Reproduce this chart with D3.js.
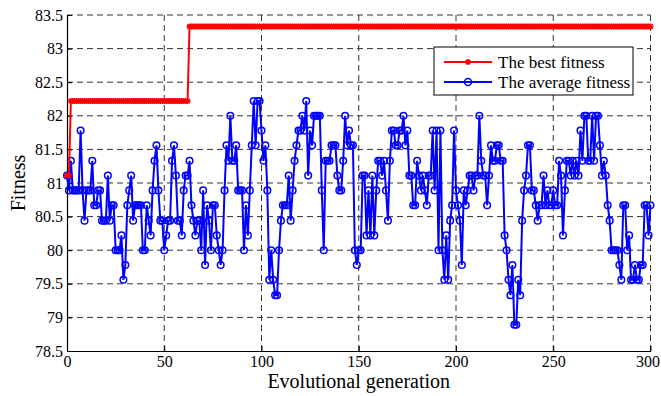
<!DOCTYPE html>
<html>
<head>
<meta charset="utf-8">
<script src="https://cdnjs.cloudflare.com/ajax/libs/d3/7.8.5/d3.min.js"></script>
<style>
body { margin: 0; background: #fff; }
text { font-family: "Liberation Serif", "Times New Roman", serif; fill: #000; }
</style>
</head>
<body>
<svg width="661" height="396"></svg>
<script>
var xTicks = [0, 50, 100, 150, 200, 250, 300];
var yTicks = [78.5, 79, 79.5, 80, 80.5, 81, 81.5, 82, 82.5, 83, 83.5];

// best fitness changes only at these generations
var bestGen = [0, 2, 63];
var bestValue = [81.11, 82.22, 83.33];

// average fitness, generations 0..300
var avgFitness = [
  81.11, 80.89, 81.33, 80.89, 80.89, 80.89, 80.89, 81.78, 80.89, 80.44,
  80.89, 80.89, 80.89, 81.33, 80.67, 80.67, 80.89, 80.89, 80.44, 80.44,
  80.44, 81.11, 80.44, 80.67, 80.67, 80.00, 80.00, 80.00, 80.22, 79.56,
  79.78, 80.67, 80.89, 81.11, 80.44, 80.67, 80.67, 80.67, 80.67, 80.00,
  80.00, 80.67, 80.44, 80.22, 80.89, 81.33, 81.56, 80.89, 80.44, 80.44,
  80.00, 80.22, 80.44, 80.44, 81.33, 81.56, 81.11, 80.44, 80.44, 80.22,
  80.89, 81.11, 81.11, 81.33, 80.67, 80.44, 80.22, 80.44, 80.44, 80.00,
  80.89, 79.78, 80.67, 80.44, 80.00, 80.67, 80.67, 80.22, 80.00, 79.78,
  80.00, 80.89, 81.56, 81.33, 82.00, 81.33, 81.33, 81.56, 80.89, 80.89,
  80.89, 80.00, 80.67, 80.22, 80.89, 81.56, 82.22, 81.56, 82.22, 82.22,
  81.78, 81.33, 81.56, 80.89, 79.56, 80.00, 79.56, 79.33, 79.33, 80.00,
  80.44, 80.67, 80.67, 80.67, 81.11, 80.44, 80.89, 81.33, 81.56, 81.78,
  81.78, 82.00, 81.78, 82.22, 81.11, 81.78, 81.56, 82.00, 82.00, 82.00,
  82.00, 80.89, 80.00, 81.33, 81.33, 81.33, 81.56, 81.56, 81.56, 81.11,
  80.89, 80.89, 81.33, 82.00, 81.56, 81.78, 81.56, 81.56, 80.00, 79.78,
  80.00, 80.00, 81.11, 81.11, 80.22, 80.89, 80.22, 81.11, 80.22, 80.89,
  81.33, 81.33, 81.11, 81.33, 80.89, 80.44, 81.33, 81.78, 81.78, 81.56,
  81.56, 81.78, 81.78, 82.00, 81.56, 81.78, 81.11, 81.11, 80.67, 80.67,
  81.33, 81.11, 80.89, 81.11, 80.89, 80.67, 81.11, 81.11, 81.78, 80.89,
  81.78, 80.00, 81.78, 80.00, 79.56, 80.22, 79.56, 80.44, 80.67, 81.78,
  80.89, 80.67, 80.44, 79.78, 80.89, 80.67, 80.89, 81.11, 81.11, 80.89,
  81.11, 81.11, 82.00, 81.33, 81.11, 81.11, 80.67, 81.11, 81.56, 81.33,
  81.33, 81.56, 81.56, 81.33, 81.33, 80.22, 80.00, 79.56, 79.33, 79.78,
  78.89, 78.89, 79.56, 79.33, 80.44, 80.89, 81.11, 81.56, 81.56, 80.89,
  80.89, 80.67, 80.44, 80.67, 80.67, 81.11, 80.67, 80.89, 80.67, 80.67,
  80.89, 80.67, 80.67, 81.33, 81.11, 80.22, 80.89, 81.33, 81.33, 81.11,
  81.33, 81.11, 81.33, 81.11, 81.78, 81.33, 82.00, 82.00, 81.33, 81.33,
  82.00, 81.33, 82.00, 82.00, 81.56, 81.11, 81.33, 81.11, 80.67, 80.44,
  80.00, 80.00, 80.00, 80.00, 79.78, 79.56, 80.67, 80.67, 80.00, 80.22,
  79.56, 79.56, 79.78, 79.56, 79.56, 79.78, 79.78, 80.67, 80.67, 80.22,
  80.67
];

var legendLabels = ["The best fitness", "The average fitness"];

var svg = d3.select("svg");

var x = d3.scaleLinear().domain([0, 300]).range([67, 650.5]);
var y = d3.scaleLinear().domain([78.5, 83.5]).range([351, 15]);

// per-generation best value from the step points
var avgData = avgFitness.map(function(v, i) { return [i, v]; });
var bestData = avgFitness.map(function(v, i) {
  var k = d3.bisectRight(bestGen, i) - 1;
  return [i, bestValue[k]];
});

// grid
var grid = svg.append("g").attr("stroke", "#333").attr("stroke-width", 1)
  .attr("stroke-dasharray", "6,4");
grid.selectAll(".gx").data(xTicks.slice(1)).enter().append("line")
  .attr("x1", function(d) { return x(d); }).attr("x2", function(d) { return x(d); })
  .attr("y1", y(78.5)).attr("y2", y(83.5));
grid.selectAll(".gy").data(yTicks.slice(1)).enter().append("line")
  .attr("y1", function(d) { return y(d); }).attr("y2", function(d) { return y(d); })
  .attr("x1", x(0)).attr("x2", x(300));

// axes
var xAxis = d3.axisBottom(x).tickValues(xTicks).tickSizeInner(-5).tickSizeOuter(0).tickPadding(5);
var yAxis = d3.axisLeft(y).tickValues(yTicks).tickSizeInner(-5).tickSizeOuter(0).tickPadding(4)
  .tickFormat(function(d) { return String(d); });

var gx = svg.append("g").attr("transform", "translate(0," + y(78.5) + ")").call(xAxis);
var gy = svg.append("g").attr("transform", "translate(" + x(0) + ",0)").call(yAxis);
[gx, gy].forEach(function(g) {
  g.select(".domain").attr("stroke", "#000").attr("stroke-width", 1.2);
  g.selectAll(".tick line").attr("stroke", "#000");
  g.selectAll(".tick text").style("font-family", '"Liberation Serif", serif')
    .style("font-size", "16px").attr("fill", "#000");
});
// keep the last x label inside the window
gx.selectAll(".tick text").filter(function(d) { return d === 300; }).attr("dx", "-3");

// average fitness
var line = d3.line().x(function(d) { return x(d[0]); }).y(function(d) { return y(d[1]); });

svg.append("path").datum(avgData)
  .attr("d", line).attr("fill", "none").attr("stroke", "#0000ff").attr("stroke-width", 2);
svg.append("g").selectAll("circle").data(avgData).enter().append("circle")
  .attr("cx", function(d) { return x(d[0]); })
  .attr("cy", function(d) { return y(d[1]); })
  .attr("r", 3.3)
  .attr("fill", "none").attr("stroke", "#0000ff").attr("stroke-width", 1.5);

// best fitness
var star = "M-3,0H3M0,-3V3M-2.2,-2.2L2.2,2.2M-2.2,2.2L2.2,-2.2";
svg.append("path").datum(bestData)
  .attr("d", line).attr("fill", "none").attr("stroke", "#ff0000").attr("stroke-width", 2);
svg.append("g").selectAll("path").data(bestData).enter().append("path")
  .attr("transform", function(d) { return "translate(" + x(d[0]) + "," + y(d[1]) + ")"; })
  .attr("d", star).attr("stroke", "#ff0000").attr("stroke-width", 1.5).attr("fill", "none");

// legend
var lg = svg.append("g");
lg.append("rect").attr("x", 434).attr("y", 47).attr("width", 199).attr("height", 48)
  .attr("fill", "#fff").attr("stroke", "#000").attr("stroke-width", 1);
var colors = ["#ff0000", "#0000ff"];
legendLabels.forEach(function(t, i) {
  var ly = 62 + i * 20;
  lg.append("line").attr("x1", 444).attr("x2", 492).attr("y1", ly).attr("y2", ly)
    .attr("stroke", colors[i]).attr("stroke-width", 2);
  if (i === 0) {
    lg.append("path").attr("transform", "translate(468," + ly + ")").attr("d", star)
      .attr("stroke", colors[i]).attr("stroke-width", 1.5);
  } else {
    lg.append("circle").attr("cx", 468).attr("cy", ly).attr("r", 3.5)
      .attr("fill", "none").attr("stroke", colors[i]).attr("stroke-width", 1.5);
  }
  lg.append("text").attr("x", 498).attr("y", ly).attr("dy", "0.35em")
    .style("font-size", "17px").text(t);
});

// axis titles
svg.append("text").attr("x", (x(0) + x(300)) / 2).attr("y", 388)
  .attr("text-anchor", "middle").style("font-size", "20px").text("Evolutional generation");
svg.append("text").attr("transform", "translate(25," + y(81) + ") rotate(-90)")
  .attr("text-anchor", "middle").style("font-size", "20px").text("Fitness");
</script>
</body>
</html>
